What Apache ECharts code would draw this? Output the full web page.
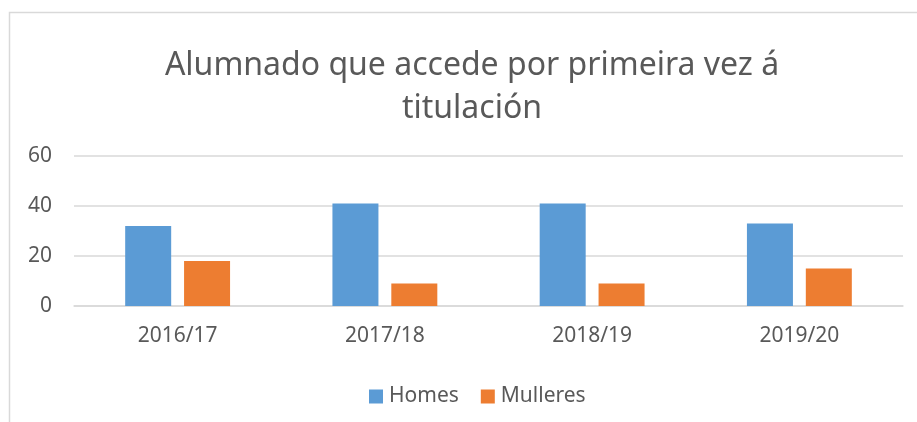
<!DOCTYPE html>
<html>
<head>
<meta charset="utf-8">
<script src="https://cdn.jsdelivr.net/npm/echarts@6/dist/echarts.min.js"></script>
<style>
html, body { margin: 0; padding: 0; background: #fff; }
#main { width: 917px; height: 422px; }
</style>
</head>
<body>
<div id="main"></div>
<script>
// data
const courses = ['2016/17', '2017/18', '2018/19', '2019/20'];
const homes = [32, 41, 41, 33];
const mulleres = [18, 9, 9, 15];
const yTicks = { min: 0, max: 60, interval: 20 };

const textColor = '#595959';
const font = 'Noto Sans';

let myChart = echarts.init(document.getElementById('main'));
myChart.setOption({
    animation: false,
    textStyle: { fontFamily: font },
    graphic: [{
        type: 'rect',
        shape: { x: 9.5, y: 12.5, width: 1000, height: 600 },
        style: { fill: 'none', stroke: '#d9d9d9', lineWidth: 1.5 },
        silent: true
    }],
    title: {
        text: 'Alumnado que accede por primeira vez á\ntitulación',
        left: 467,
        top: 39,
        textAlign: 'center',
        textStyle: {
            fontFamily: font,
            fontSize: 32,
            fontWeight: 'normal',
            color: textColor,
            lineHeight: 43
        }
    },
    legend: {
        left: 364,
        top: 381,
        itemWidth: 14,
        itemHeight: 14,
        itemGap: 22,
        icon: 'rect',
        textStyle: { fontFamily: font, fontSize: 21, color: textColor, padding: [0, 0, 0, 1] },
        data: ['Homes', 'Mulleres']
    },
    grid: { left: 74, right: 14, top: 156, bottom: 116, containLabel: false },
    xAxis: {
        type: 'category',
        data: courses,
        axisLine: { lineStyle: { color: '#d9d9d9', width: 1.5 } },
        axisTick: { show: false },
        axisLabel: { fontFamily: font, fontSize: 21, color: textColor, margin: 20 }
    },
    yAxis: {
        type: 'value',
        min: yTicks.min,
        max: yTicks.max,
        interval: yTicks.interval,
        axisLine: { show: false },
        axisTick: { show: false },
        splitLine: { lineStyle: { color: '#d9d9d9', width: 1.5 } },
        axisLabel: { fontFamily: font, fontSize: 21, color: textColor, margin: 22 }
    },
    series: [{
        name: 'Homes',
        type: 'bar',
        data: homes,
        barWidth: 46,
        barGap: '28%',
        itemStyle: { color: '#5b9bd5' }
    }, {
        name: 'Mulleres',
        type: 'bar',
        data: mulleres,
        barWidth: 46,
        barGap: '28%',
        itemStyle: { color: '#ed7d31' }
    }]
});
</script>
</body>
</html>
